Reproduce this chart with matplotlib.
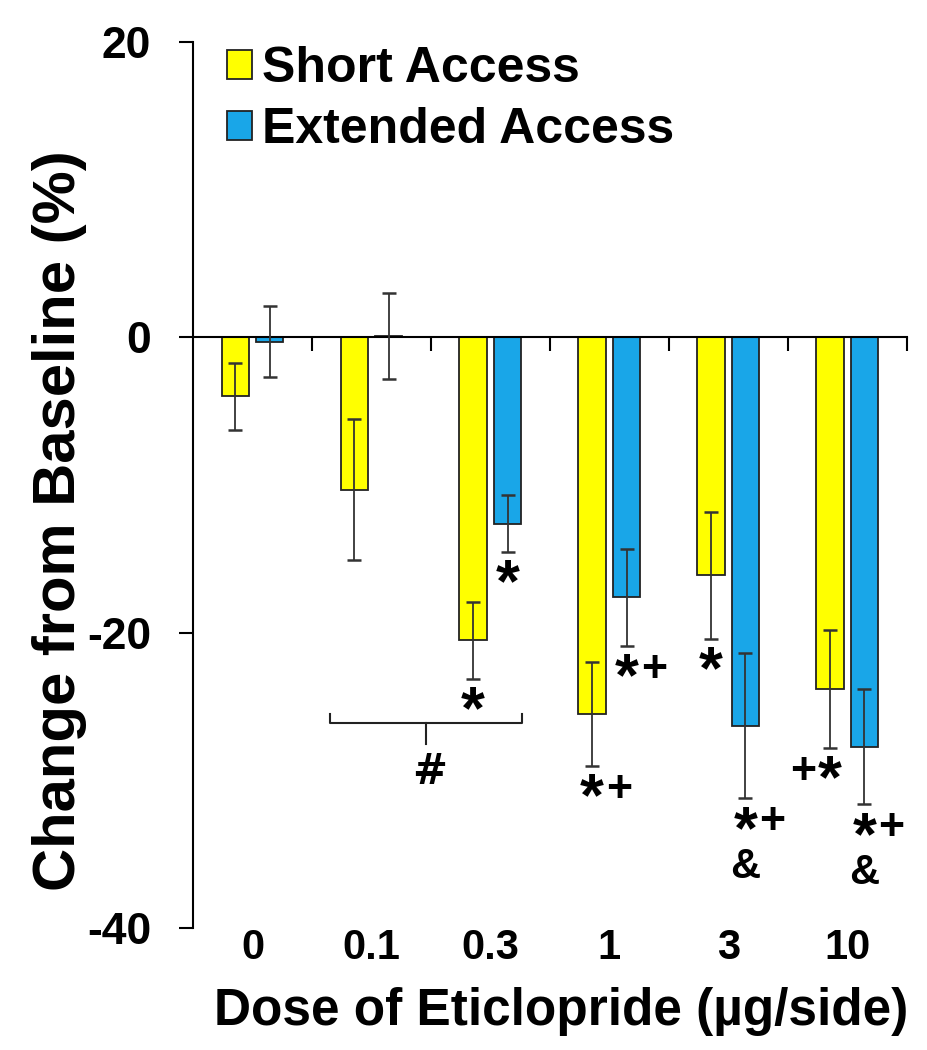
import matplotlib
matplotlib.use("Agg")
import matplotlib.pyplot as plt
from matplotlib.transforms import offset_copy
import numpy as np

plt.rcParams['font.family'] = ['Liberation Sans', 'DejaVu Sans']
plt.rcParams['font.weight'] = 'bold'

# dosis e valores
doses = ['0', '0.1', '0.3', '1', '3', '10']
short_media = [-4.0, -10.3, -20.5, -25.5, -16.1, -23.8]
short_erro = [2.3, 4.8, 2.6, 3.5, 4.3, 4.0]
ext_media = [-0.3, 0.1, -12.6, -17.6, -26.3, -27.7]
ext_erro = [2.4, 2.9, 1.9, 3.3, 4.9, 3.9]

# marcas de significancia
short_marcas = ['', '', '*', '*+', '*', '+*']
ext_marcas = ['', '', '*', '*+', '*+\n&', '*+\n&']

amarelo = '#FFFF00'
azul = '#19A6E8'

fig = plt.figure(figsize=(9.28, 10.5), dpi=100)
ax = fig.add_axes([0.208, 0.116, 0.769, 0.844])

x = np.arange(len(doses))
larg = 0.23
desl = 0.145

ax.bar(x - desl, short_media, larg, color=amarelo, edgecolor='#222222', linewidth=1.3,
       label='Short Access', zorder=2)
ax.bar(x + desl, ext_media, larg, color=azul, edgecolor='#222222', linewidth=1.3,
       label='Extended Access', zorder=2)
ax.errorbar(x - desl, short_media, yerr=short_erro, fmt='none', ecolor='#333333',
            elinewidth=1.3, capsize=5, capthick=1.8, zorder=3)
ax.errorbar(x + desl, ext_media, yerr=ext_erro, fmt='none', ecolor='#333333',
            elinewidth=1.3, capsize=5, capthick=1.8, zorder=3)

ax.set_xlim(-0.5, 5.5)
ax.set_ylim(-40, 20)
ax.set_yticks([20, 0, -20, -40])
ax.set_yticklabels(['20', '0', '-20', '-40'], fontsize=32, fontweight='bold')
ax.tick_params(axis='y', direction='out', length=10, width=1.5, pad=20)

ax.spines['top'].set_visible(False)
ax.spines['right'].set_visible(False)
ax.spines['left'].set_linewidth(1.5)
ax.spines['left'].set_bounds(-40, 20)
ax.spines['bottom'].set_position(('data', 0))
ax.spines['bottom'].set_linewidth(1.5)

ax.set_xticks(np.arange(0.5, 6, 1.0))
ax.set_xticklabels([])
ax.tick_params(axis='x', direction='out', length=10, width=1.5)

trans = ax.get_xaxis_transform()
for i, d in enumerate(doses):
    ax.text(i, 0.0, d, transform=trans, ha='center', va='top', fontsize=30,
            fontweight='bold')
ax.text(0.516, -0.066, 'Dose of Eticlopride (µg/side)', transform=ax.transAxes,
        ha='center', va='top', fontsize=37, fontweight='bold')
ax.set_ylabel('Change from Baseline (%)', fontsize=43, fontweight='bold')
ax.yaxis.set_label_coords(-0.149, 0.46)


def desenha_marca(xc, ytopo, s):
    # o asterisco fica centrado na barra, os outros sinais ao lado
    for r, linha in enumerate(s.split('\n')):
        ia = linha.find('*')
        for k, ch in enumerate(linha):
            dx = (k - ia) * 19.5 if ia >= 0 else 0
            dy = -31 * r
            if ch == '*':
                tam, dy = 44, dy - 7
            elif ch == '+':
                tam = 32
            else:
                tam, dy = 30, dy - 1
            tr = offset_copy(ax.transData, fig=fig, x=dx, y=dy, units='points')
            ax.text(xc, ytopo, ch, transform=tr, ha='center', va='center',
                    fontsize=tam, fontweight='bold')


for i, m in enumerate(short_marcas):
    if m:
        desenha_marca(i - desl, short_media[i] - short_erro[i] - 1.65, m)
for i, m in enumerate(ext_marcas):
    if m:
        desenha_marca(i + desl, ext_media[i] - ext_erro[i] - 1.65, m)

# chave sob 0.1 e 0.3
x0, x1, yb = 1 - 0.35, 2 + 0.27, -26.1
ax.plot([x0, x0, x1, x1], [yb + 0.6, yb, yb, yb + 0.6], color='#222222', lw=1.5)
xm = (x0 + x1) / 2
ax.plot([xm, xm], [yb, yb - 1.4], color='#222222', lw=1.5)
ax.text(xm + 0.03, yb - 3.3, '#', ha='center', va='center', fontsize=30,
        fontweight='bold', family=['DejaVu Sans'])

leg = ax.legend(loc='upper left', bbox_to_anchor=(0.02, 1.018), frameon=False,
                fontsize=36, handlelength=0.5, handleheight=0.5, handletextpad=0.2,
                labelspacing=0.3, borderaxespad=0)
for t in leg.get_texts():
    t.set_fontweight('bold')

fig.savefig('out.png', dpi=100)
